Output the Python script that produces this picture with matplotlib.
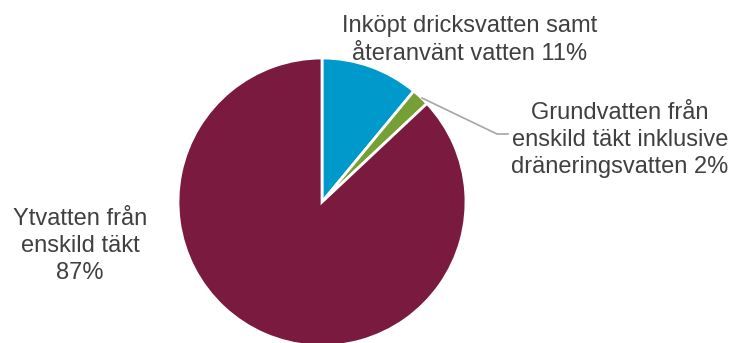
import matplotlib.pyplot as plt

# andel av vattenuttag per källa
labels = ['Inköpt dricksvatten samt\nåteranvänt vatten 11%',
          'Grundvatten från\nenskild täkt inklusive\ndräneringsvatten 2%',
          'Ytvatten från\nenskild täkt\n87%']
values = [11, 2, 87]
colors = ['#0099CC', '#76A035', '#7B1A3F']

W, H = 731, 343
fig = plt.figure(figsize=(W / 100, H / 100), dpi=100)
ax = fig.add_axes([0, 0, 1, 1])

# y-axeln är vänd, så counterclock=True ritar medurs på skärmen
ax.pie(values, colors=colors, startangle=-90, counterclock=True,
       center=(322, 202), radius=144, frame=True,
       wedgeprops=dict(edgecolor='white', linewidth=2))
ax.set_xlim(0, W)
ax.set_ylim(H, 0)
ax.set_aspect('equal')
ax.axis('off')

txt = dict(fontsize=17, color='#404040', family='Liberation Sans',
           ha='center', va='center', linespacing=1.3)
ax.text(470, 40, labels[0], **txt)
ax.text(620, 140, labels[1], **txt)
ax.text(80, 246, labels[2], **txt)

# hänvisningslinje till den lilla sektorn
ax.plot([422, 497, 508], [98, 134, 134], color='#A6A6A6', lw=1.2)

fig.savefig('out.png', dpi=100)
